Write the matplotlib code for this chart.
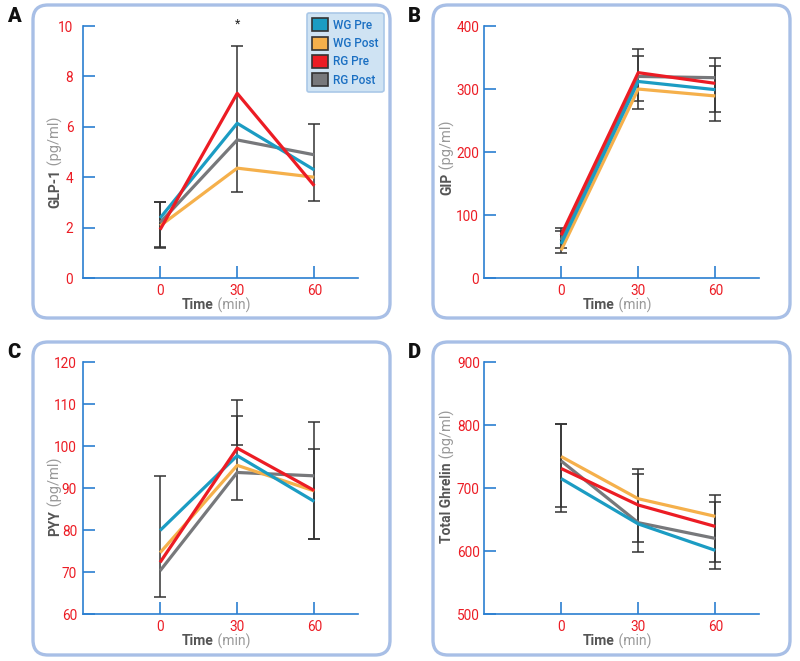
import matplotlib.pyplot as plt
from matplotlib.patches import FancyBboxPatch, Patch

plt.rcParams['font.family'] = ['Roboto', 'DejaVu Sans']

time = [0, 30, 60]
groups = ['WG Pre', 'WG Post', 'RG Pre', 'RG Post']
colors = ['#1b9cc3', '#f5b04b', '#ec1c24', '#77787b']

# GLP-1 (pg/ml)
glp1_wg_pre = [2.38, 6.14, 4.29]
glp1_wg_post = [2.07, 4.36, 4.0]
glp1_rg_pre = [1.92, 7.33, 3.66]
glp1_rg_post = [2.2, 5.48, 4.89]
glp1_err_x = [0, 0, 30, 60]
glp1_err_lo = [1.25, 1.19, 3.41, 3.04]
glp1_err_hi = [3.0, 3.0, 9.22, 6.12]

# GIP (pg/ml)
gip_wg_pre = [54, 312, 299]
gip_wg_post = [44, 300, 289]
gip_rg_pre = [68, 326, 309]
gip_rg_post = [60, 320, 318]
gip_err_x = [0, 0, 30, 30, 60, 60]
gip_err_lo = [47, 39, 281, 268, 263, 250]
gip_err_hi = [80, 75, 364, 353, 349, 336]

# PYY (pg/ml)
pyy_wg_pre = [79.9, 97.7, 86.8]
pyy_wg_post = [74.6, 95.4, 89.3]
pyy_rg_pre = [72.3, 99.5, 89.4]
pyy_rg_post = [70.3, 93.7, 92.9]
pyy_err_x = [0, 30, 30, 60, 60]
pyy_err_lo = [64.1, 87.2, 100.2, 77.9, 77.9]
pyy_err_hi = [92.9, 111.0, 107.1, 105.8, 99.3]

# Total Ghrelin (pg/ml)
ghr_wg_pre = [715, 643, 601]
ghr_wg_post = [750, 683, 655]
ghr_rg_pre = [731, 673, 639]
ghr_rg_post = [743, 645, 620]
ghr_err_x = [0, 0, 30, 30, 60, 60]
ghr_err_lo = [670.6, 662, 614, 598, 582, 572]
ghr_err_hi = [802, 802, 730, 722.5, 689.7, 678.5]

BLUE = '#2b7fd1'
RED = '#ec1c24'

fig = plt.figure(figsize=(8, 6.61), dpi=100)

# pixel-space background axes for the rounded frames and panel letters
bg = fig.add_axes([0, 0, 1, 1])
bg.set_xlim(0, 800)
bg.set_ylim(661, 0)
bg.axis('off')
for (x0, y0), letter in zip([(33, 5), (433, 5), (33, 342), (433, 342)], 'ABCD'):
    bg.add_patch(FancyBboxPatch((x0, y0), 357, 313, boxstyle='round,pad=0,rounding_size=15',
                                facecolor='none', edgecolor='#a8bfe6', lw=2.4))
    bg.text(x0 - 19, y0 + 11, letter, fontsize=14.5, fontweight='heavy', color='#111',
            ha='center', va='center', family=['Roboto', 'DejaVu Sans'])


def panel(rect, series, err_x, err_lo, err_hi, ylim, yticks, name, ylab_x, ylab_split, ypad):
    ax = fig.add_axes(rect)
    ax.set_facecolor('none')
    mid = [(a + b) / 2 for a, b in zip(err_lo, err_hi)]
    half = [(b - a) / 2 for a, b in zip(err_lo, err_hi)]
    ax.errorbar(err_x, mid, yerr=half, fmt='none', ecolor='#333', elinewidth=1.1,
                capsize=4.5, capthick=1.1, zorder=1)
    for i in [3, 1, 0, 2]:
        ax.plot(time, series[i], color=colors[i], lw=2.3, zorder=2, solid_capstyle='butt')
    ax.set_xlim(-30, 77)
    ax.set_ylim(*ylim)
    ax.set_xticks(time)
    ax.set_yticks(yticks)
    for s in ['top', 'right']:
        ax.spines[s].set_visible(False)
    for s in ['left', 'bottom']:
        ax.spines[s].set_color(BLUE)
        ax.spines[s].set_linewidth(1.2)
    ax.tick_params(axis='y', direction='in', length=8.5, width=1.2, color=BLUE,
                   labelcolor=RED, labelsize=9.8, pad=ypad)
    ax.tick_params(axis='x', direction='in', length=8.5, width=1.2, color=BLUE,
                   labelcolor=RED, labelsize=9.8, pad=4)
    # two-tone axis titles
    ax.text(0.476, -0.107, 'Time', transform=ax.transAxes, ha='right', va='center',
            fontsize=10, fontweight='bold', color='#555')
    ax.text(0.476, -0.107, ' (min)', transform=ax.transAxes, ha='left', va='center',
            fontsize=10, color='#999')
    ax.text(ylab_x, ylab_split, name, transform=ax.transAxes, rotation=90,
            ha='right', va='center', fontsize=10, fontweight='bold', color='#555',
            rotation_mode='anchor')
    ax.text(ylab_x, ylab_split, ' (pg/ml)', transform=ax.transAxes, rotation=90,
            ha='left', va='center', fontsize=10.5, color='#999', rotation_mode='anchor')
    return ax


axA = panel([0.10375, 0.5794, 0.34375, 0.3812],
            [glp1_wg_pre, glp1_wg_post, glp1_rg_pre, glp1_rg_post],
            glp1_err_x, glp1_err_lo, glp1_err_hi, (0, 10), range(0, 11, 2),
            'GLP-1', -0.102, 0.4325, 7)
axB = panel([0.605, 0.5794, 0.34375, 0.3812],
            [gip_wg_pre, gip_wg_post, gip_rg_pre, gip_rg_post],
            gip_err_x, gip_err_lo, gip_err_hi, (0, 400), range(0, 401, 100),
            'GIP', -0.135, 0.417, 3.5)
axC = panel([0.10375, 0.0711, 0.34375, 0.3812],
            [pyy_wg_pre, pyy_wg_post, pyy_rg_pre, pyy_rg_post],
            pyy_err_x, pyy_err_lo, pyy_err_hi, (60, 120), range(60, 121, 10),
            'PYY', -0.102, 0.413, 4.3)
axD = panel([0.605, 0.0711, 0.34375, 0.3812],
            [ghr_wg_pre, ghr_wg_post, ghr_rg_pre, ghr_rg_post],
            ghr_err_x, ghr_err_lo, ghr_err_hi, (500, 900), range(500, 901, 100),
            'Total Ghrelin', -0.135, 0.603, 3)

axA.text(30, 9.92, '*', ha='center', va='baseline', fontsize=9, color='#222', clip_on=False)

handles = [Patch(facecolor=c, edgecolor='#333', lw=1.2) for c in colors]
leg = axA.legend(handles, groups, loc='upper left', bbox_to_anchor=(307, 13),
                 bbox_transform=bg.transData, fontsize=8.5, handlelength=1.3,
                 handleheight=1.3, handletextpad=0.45, labelspacing=0.42,
                 borderpad=0.45, borderaxespad=0, fancybox=True, framealpha=1,
                 facecolor='#cfe3f3', edgecolor='#aac8e8', labelcolor='#1a6fc2')
leg.get_frame().set_linewidth(1.2)
for t in leg.get_texts():
    t.set_fontweight('medium')

fig.savefig('out.png', dpi=100)
